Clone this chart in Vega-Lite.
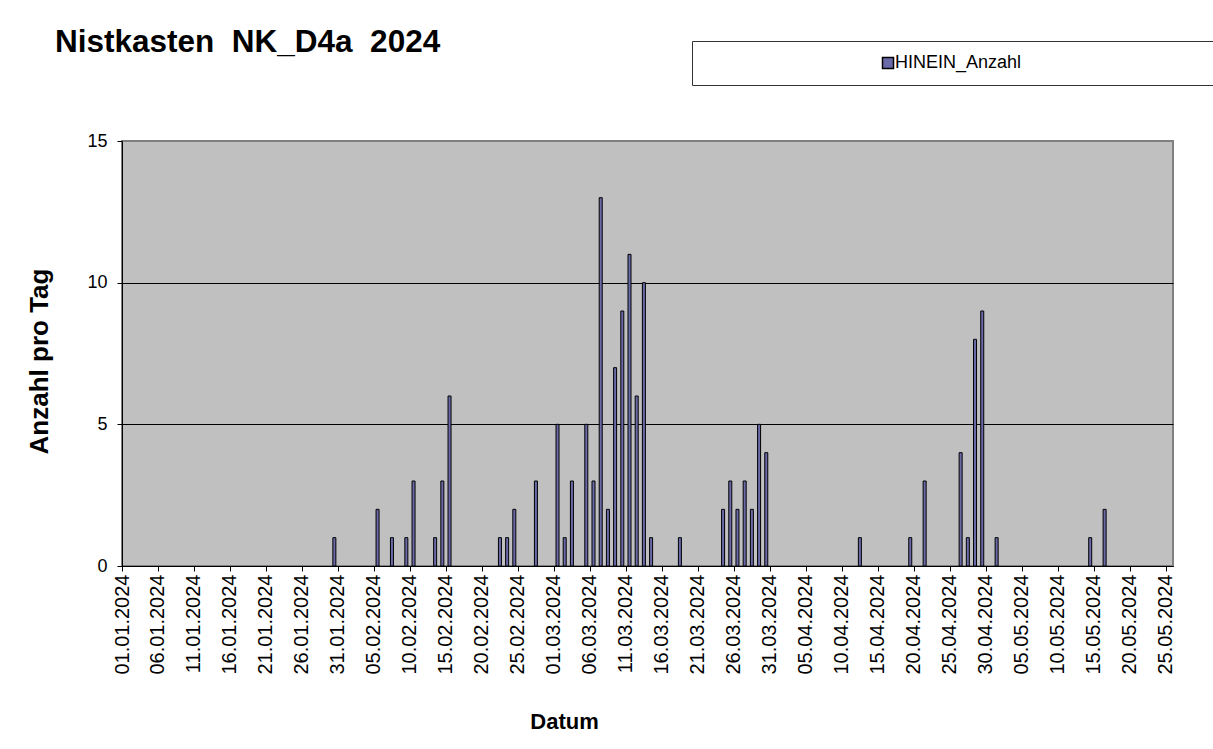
{
  "$schema": "https://vega.github.io/schema/vega-lite/v6.json",
  "width": 1051,
  "height": 425,
  "autosize": {"type": "none"},
  "padding": {"left": 122, "top": 141, "right": 40, "bottom": 183},
  "background": "white",
  "config": {
    "font": "Liberation Sans",
    "view": {"fill": "#c0c0c0", "stroke": "#808080", "strokeWidth": 2}
  },
  "title": {
    "text": "Nistkasten\u00a0 NK_D4a\u00a0 2024",
    "anchor": "start",
    "frame": "group",
    "font": "Liberation Sans",
    "fontSize": 31.5,
    "fontWeight": "bold",
    "color": "black",
    "dx": -67,
    "dy": 22
  },
  "data": {
    "values": [
      {"tag": "2024-01-30", "anzahl": 1},
      {"tag": "2024-02-05", "anzahl": 2},
      {"tag": "2024-02-07", "anzahl": 1},
      {"tag": "2024-02-09", "anzahl": 1},
      {"tag": "2024-02-10", "anzahl": 3},
      {"tag": "2024-02-13", "anzahl": 1},
      {"tag": "2024-02-14", "anzahl": 3},
      {"tag": "2024-02-15", "anzahl": 6},
      {"tag": "2024-02-22", "anzahl": 1},
      {"tag": "2024-02-23", "anzahl": 1},
      {"tag": "2024-02-24", "anzahl": 2},
      {"tag": "2024-02-27", "anzahl": 3},
      {"tag": "2024-03-01", "anzahl": 5},
      {"tag": "2024-03-02", "anzahl": 1},
      {"tag": "2024-03-03", "anzahl": 3},
      {"tag": "2024-03-05", "anzahl": 5},
      {"tag": "2024-03-06", "anzahl": 3},
      {"tag": "2024-03-07", "anzahl": 13},
      {"tag": "2024-03-08", "anzahl": 2},
      {"tag": "2024-03-09", "anzahl": 7},
      {"tag": "2024-03-10", "anzahl": 9},
      {"tag": "2024-03-11", "anzahl": 11},
      {"tag": "2024-03-12", "anzahl": 6},
      {"tag": "2024-03-13", "anzahl": 10},
      {"tag": "2024-03-14", "anzahl": 1},
      {"tag": "2024-03-18", "anzahl": 1},
      {"tag": "2024-03-24", "anzahl": 2},
      {"tag": "2024-03-25", "anzahl": 3},
      {"tag": "2024-03-26", "anzahl": 2},
      {"tag": "2024-03-27", "anzahl": 3},
      {"tag": "2024-03-28", "anzahl": 2},
      {"tag": "2024-03-29", "anzahl": 5},
      {"tag": "2024-03-30", "anzahl": 4},
      {"tag": "2024-04-12", "anzahl": 1},
      {"tag": "2024-04-19", "anzahl": 1},
      {"tag": "2024-04-21", "anzahl": 3},
      {"tag": "2024-04-26", "anzahl": 4},
      {"tag": "2024-04-27", "anzahl": 1},
      {"tag": "2024-04-28", "anzahl": 8},
      {"tag": "2024-04-29", "anzahl": 9},
      {"tag": "2024-05-01", "anzahl": 1},
      {"tag": "2024-05-14", "anzahl": 1},
      {"tag": "2024-05-16", "anzahl": 2}
    ]
  },
  "mark": {"type": "bar", "width": 3, "stroke": "black", "strokeWidth": 1},
  "encoding": {
    "x": {
      "field": "tag",
      "type": "temporal",
      "timeUnit": "utcyearmonthdate",
      "bandPosition": 0.5,
      "scale": {
        "type": "utc",
        "domain": [
          {"year": 2024, "month": 1, "date": 1, "utc": true},
          {"year": 2024, "month": 5, "date": 26, "utc": true}
        ]
      },
      "axis": {
        "title": "Datum",
        "titleFont": "Liberation Sans",
        "titleFontSize": 22,
        "titleFontWeight": "bold",
        "titleColor": "black",
        "titleX": 442,
        "titleY": 162,
        "titleAlign": "center",
        "titleBaseline": "alphabetic",
        "labelExpr": "utcFormat(datum.value, '%d.%m.%Y')",
        "labelAngle": 270,
        "labelFontSize": 20,
        "labelColor": "black",
        "labelOverlap": false,
        "labelPadding": 3,
        "labelFlush": false,
        "tickColor": "black",
        "tickSize": 5,
        "domainColor": "black",
        "grid": false,
        "values": [
          {"year": 2024, "month": 1, "date": 1, "utc": true},
          {"year": 2024, "month": 1, "date": 6, "utc": true},
          {"year": 2024, "month": 1, "date": 11, "utc": true},
          {"year": 2024, "month": 1, "date": 16, "utc": true},
          {"year": 2024, "month": 1, "date": 21, "utc": true},
          {"year": 2024, "month": 1, "date": 26, "utc": true},
          {"year": 2024, "month": 1, "date": 31, "utc": true},
          {"year": 2024, "month": 2, "date": 5, "utc": true},
          {"year": 2024, "month": 2, "date": 10, "utc": true},
          {"year": 2024, "month": 2, "date": 15, "utc": true},
          {"year": 2024, "month": 2, "date": 20, "utc": true},
          {"year": 2024, "month": 2, "date": 25, "utc": true},
          {"year": 2024, "month": 3, "date": 1, "utc": true},
          {"year": 2024, "month": 3, "date": 6, "utc": true},
          {"year": 2024, "month": 3, "date": 11, "utc": true},
          {"year": 2024, "month": 3, "date": 16, "utc": true},
          {"year": 2024, "month": 3, "date": 21, "utc": true},
          {"year": 2024, "month": 3, "date": 26, "utc": true},
          {"year": 2024, "month": 3, "date": 31, "utc": true},
          {"year": 2024, "month": 4, "date": 5, "utc": true},
          {"year": 2024, "month": 4, "date": 10, "utc": true},
          {"year": 2024, "month": 4, "date": 15, "utc": true},
          {"year": 2024, "month": 4, "date": 20, "utc": true},
          {"year": 2024, "month": 4, "date": 25, "utc": true},
          {"year": 2024, "month": 4, "date": 30, "utc": true},
          {"year": 2024, "month": 5, "date": 5, "utc": true},
          {"year": 2024, "month": 5, "date": 10, "utc": true},
          {"year": 2024, "month": 5, "date": 15, "utc": true},
          {"year": 2024, "month": 5, "date": 20, "utc": true},
          {"year": 2024, "month": 5, "date": 25, "utc": true}
        ]
      }
    },
    "y": {
      "field": "anzahl",
      "type": "quantitative",
      "scale": {"domain": [0, 15]},
      "axis": {
        "values": [0, 5, 10, 15],
        "title": "Anzahl pro Tag",
        "titleFont": "Liberation Sans",
        "titleFontSize": 26,
        "titleFontWeight": "bold",
        "titleColor": "black",
        "titleAngle": 270,
        "titleX": -75,
        "titleY": 220,
        "titleAlign": "center",
        "titleBaseline": "alphabetic",
        "labelFontSize": 18,
        "labelColor": "black",
        "labelPadding": 10,
        "tickColor": "black",
        "tickSize": 5,
        "domainColor": "black",
        "grid": true,
        "gridColor": {"condition": {"test": "datum.value == 15", "value": "#808080"}, "value": "black"},
        "gridOpacity": 1
      }
    },
    "color": {
      "datum": "HINEIN_Anzahl",
      "scale": {"range": ["#6a6aa8"]},
      "legend": {
        "title": null,
        "orient": "none",
        "legendX": 570,
        "legendY": -100,
        "direction": "horizontal",
        "fillColor": "white",
        "strokeColor": "#333333",
        "padding": 13,
        "symbolType": "M-1,-1H1V1H-1Z M62,0",
        "symbolSize": 121,
        "symbolOffset": 174,
        "labelOffset": -2,
        "labelFontSize": 18,
        "labelColor": "black",
        "labelLimit": 0,
        "encode": {
          "symbols": {"update": {"fill": {"value": "#9999ff"}, "stroke": {"value": "black"}, "strokeWidth": {"value": 1}}}
        }
      }
    }
  }
}
